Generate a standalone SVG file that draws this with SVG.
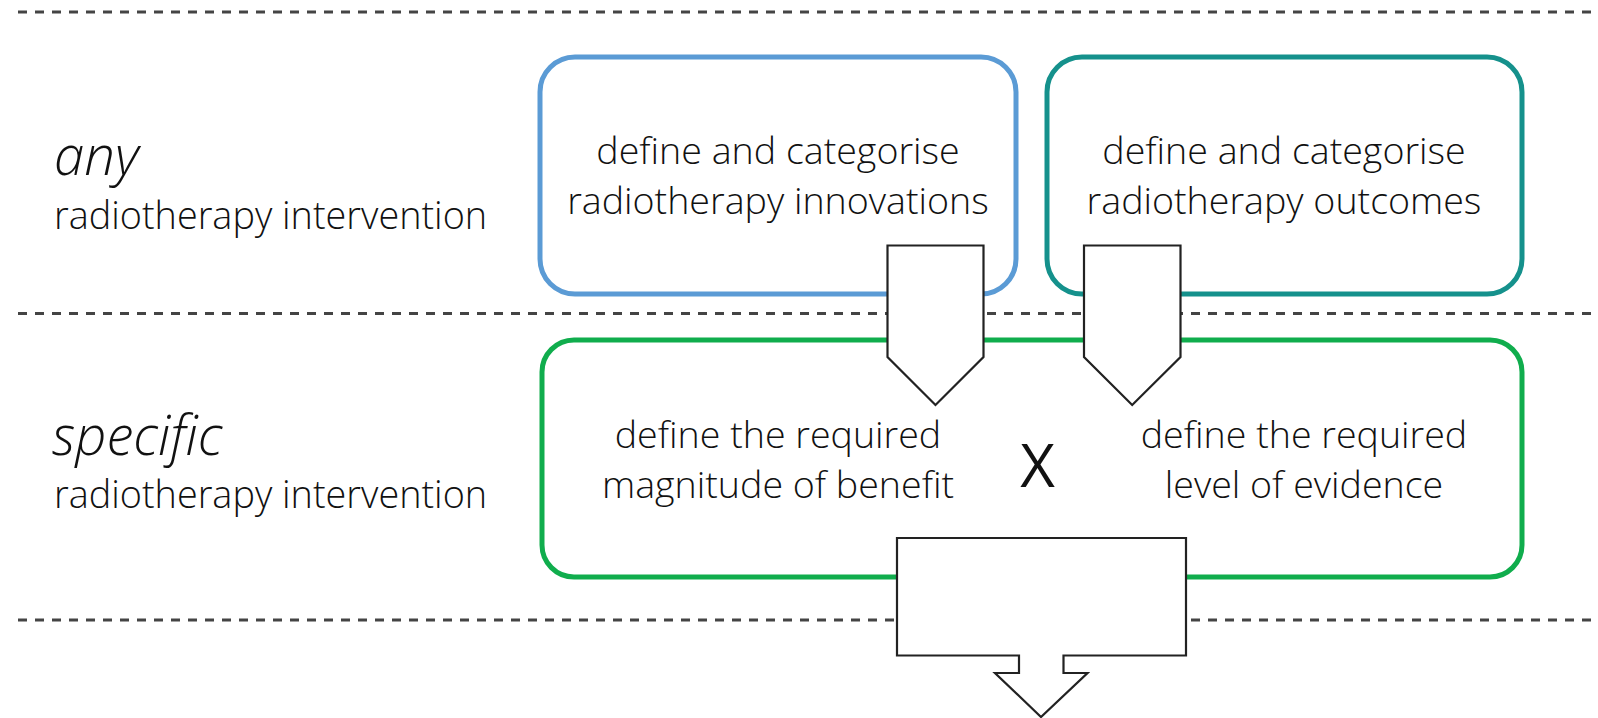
<svg xmlns="http://www.w3.org/2000/svg" width="1598" height="718" viewBox="0 0 1598 718">
<style>
.dash{stroke:#444;stroke-width:3;stroke-dasharray:9 8;fill:none}
.box{fill:#fff;stroke-width:5}
.t{font-family:"Open Sans","Noto Sans","Liberation Sans",sans-serif;font-weight:350;font-size:37.6px;fill:#111}
.tc{text-anchor:middle}
.lb{font-size:37.8px}
.it{font-style:italic;font-size:54.5px}
.arr{fill:#fff;stroke:#222;stroke-width:2.2;stroke-linejoin:miter}
</style>
<rect width="1598" height="718" fill="#fff"/>
<g id="separators">
<line class="dash" x1="18" y1="12" x2="1598" y2="12"/>
<line class="dash" x1="18" y1="313.5" x2="1598" y2="313.5"/>
<line class="dash" x1="18" y1="620" x2="1598" y2="620"/>
</g>
<g id="label-any">
<text class="t it" x="54" y="175">any</text>
<text class="t lb" x="54" y="229">radiotherapy intervention</text>
</g>
<g id="label-specific">
<text class="t it" x="52" y="455">specific</text>
<text class="t lb" x="54" y="508">radiotherapy intervention</text>
</g>
<g id="innovations">
<rect class="box" x="540" y="57" width="476" height="237" rx="35" stroke="#5B9BD5"/>
<text class="t tc" x="778" y="164">define and categorise</text>
<text class="t tc" x="778" y="214">radiotherapy innovations</text>
</g>
<g id="outcomes">
<rect class="box" x="1047" y="57" width="475" height="237" rx="35" stroke="#15918C"/>
<text class="t tc" x="1284" y="164">define and categorise</text>
<text class="t tc" x="1284" y="214">radiotherapy outcomes</text>
</g>
<g id="requirements">
<rect class="box" x="542" y="340" width="980" height="237" rx="32" stroke="#10AD4D"/>
<text class="t tc" x="778" y="448">define the required</text>
<text class="t tc" x="778" y="498">magnitude of benefit</text>
<text class="t tc" x="1304" y="448">define the required</text>
<text class="t tc" x="1304" y="498">level of evidence</text>
</g>
<g id="connectors">
<path class="arr" d="M887.5,245.5 H983.5 V357 L935.5,405 L887.5,357 Z"/>
<path class="arr" d="M1084,245.5 H1180.5 V357 L1132.2,405 L1084,357 Z"/>
<path class="arr" d="M897,538 H1186 V655.5 H1063.5 V673 H1087.5 L1041,717 L995,673 H1019 V655.5 H897 Z"/>
</g>
<g id="operator">
<text x="1037.5" y="487" text-anchor="middle" font-family="'Open Sans','Noto Sans','Liberation Sans',sans-serif" font-size="60" fill="#111">X</text>
</g>
</svg>
